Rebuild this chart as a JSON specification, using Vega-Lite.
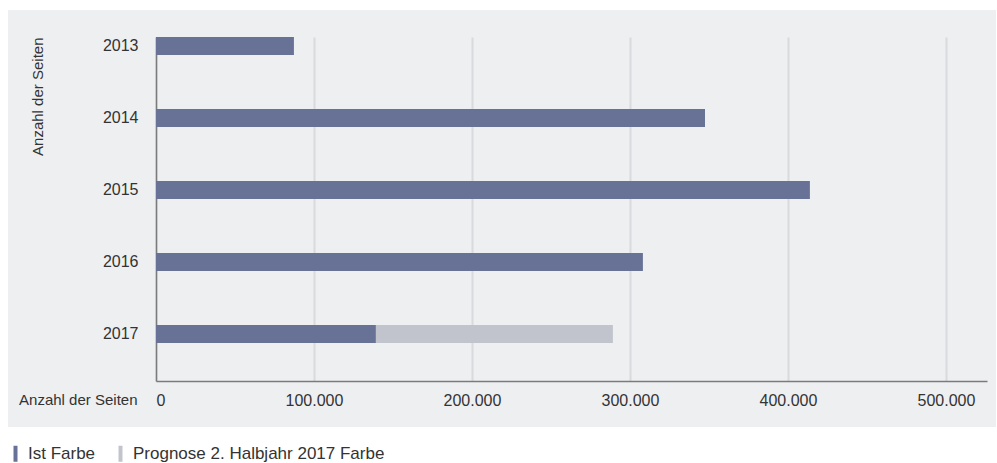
{
  "$schema": "https://vega.github.io/schema/vega-lite/v6.json",
  "autosize": "none",
  "width": 988,
  "height": 417,
  "padding": {"left": 8, "top": 10, "right": 1, "bottom": 36},
  "background": "#ffffff",
  "data": {
    "values": [
      {"year": "2013", "type": "Ist Farbe", "value": 87300},
      {"year": "2014", "type": "Ist Farbe", "value": 347500},
      {"year": "2015", "type": "Ist Farbe", "value": 413900},
      {"year": "2016", "type": "Ist Farbe", "value": 308200},
      {"year": "2017", "type": "Ist Farbe", "value": 139200},
      {"year": "2017", "type": "Prognose 2. Halbjahr 2017 Farbe", "value": 150000}
    ]
  },
  "encoding": {
    "y": {
      "field": "year",
      "type": "nominal",
      "sort": "ascending",
      "scale": {"range": [27, 371], "paddingInner": 0.75, "paddingOuter": 0.264, "align": 0},
      "axis": {
        "offset": -148,
        "ticks": false,
        "grid": false,
        "domainColor": "#7b7b7b",
        "domainWidth": 1.5,
        "labelPadding": 18,
        "labelFontSize": 16,
        "title": "Anzahl der Seiten",
        "titleAngle": -90,
        "titleX": -118.5,
        "titleY": 27,
        "titleAlign": "right",
        "titleBaseline": "middle"
      }
    }
  },
  "layer": [
    {
      "mark": {"type": "bar", "opacity": 0},
      "encoding": {
        "x": {
          "field": "value",
          "type": "quantitative",
          "stack": "zero",
          "axis": {
            "orient": "top",
            "values": [0, 100000, 200000, 300000, 400000, 500000],
            "grid": true,
            "gridColor": "#d9dadd",
            "gridWidth": 2,
            "domain": false,
            "ticks": false,
            "labels": false,
            "title": null
          }
        }
      }
    },
    {
      "mark": {"type": "bar"},
      "encoding": {
        "x": {
          "field": "value",
          "type": "quantitative",
          "stack": "zero",
          "scale": {"domain": [0, 526000], "range": [148, 979], "nice": false, "zero": true},
          "axis": {
            "orient": "bottom",
            "offset": -46,
            "values": [0, 100000, 200000, 300000, 400000, 500000],
            "labelExpr": "replace(format(datum.value, ','), ',', '.')",
            "ticks": false,
            "grid": false,
            "domainColor": "#7b7b7b",
            "domainWidth": 1.5,
            "labelPadding": 11,
            "labelFontSize": 16,
            "labelFlush": true,
            "labelBaseline": "top",
            "title": "Anzahl der Seiten",
            "titleX": 129,
            "titleY": 18,
            "titleAlign": "right",
            "titleBaseline": "middle",
            "titleAngle": 0
          }
        },
        "color": {
          "field": "type",
          "type": "nominal",
          "scale": {
            "domain": ["Ist Farbe", "Prognose 2. Halbjahr 2017 Farbe"],
            "range": ["#677296", "#c1c4cc"]
          },
          "legend": {
            "orient": "none",
            "direction": "horizontal",
            "legendX": -1,
            "legendY": 435,
            "title": null,
            "padding": 0,
            "symbolType": "M-0.25,-1H0.25V1H-0.25Z",
            "symbolSize": 256,
            "symbolStrokeWidth": 0,
            "labelOffset": 4,
            "labelLimit": 0,
            "columnPadding": 16,
            "labelFontSize": 17,
            "labelColor": "#333333",
            "labelFont": "Liberation Sans"
          }
        },
        "order": {"field": "type", "sort": "ascending"}
      }
    }
  ],
  "resolve": {"axis": {"x": "independent"}},
  "config": {
    "view": {"fill": "#eeeff1", "stroke": null},
    "axis": {
      "labelFont": "Liberation Sans",
      "labelFontSize": 16,
      "labelColor": "#333333",
      "titleFont": "Liberation Sans",
      "titleFontSize": 15,
      "titleFontWeight": "normal",
      "titleColor": "#333333"
    },
    "legend": {"labelFont": "Liberation Sans"}
  }
}
